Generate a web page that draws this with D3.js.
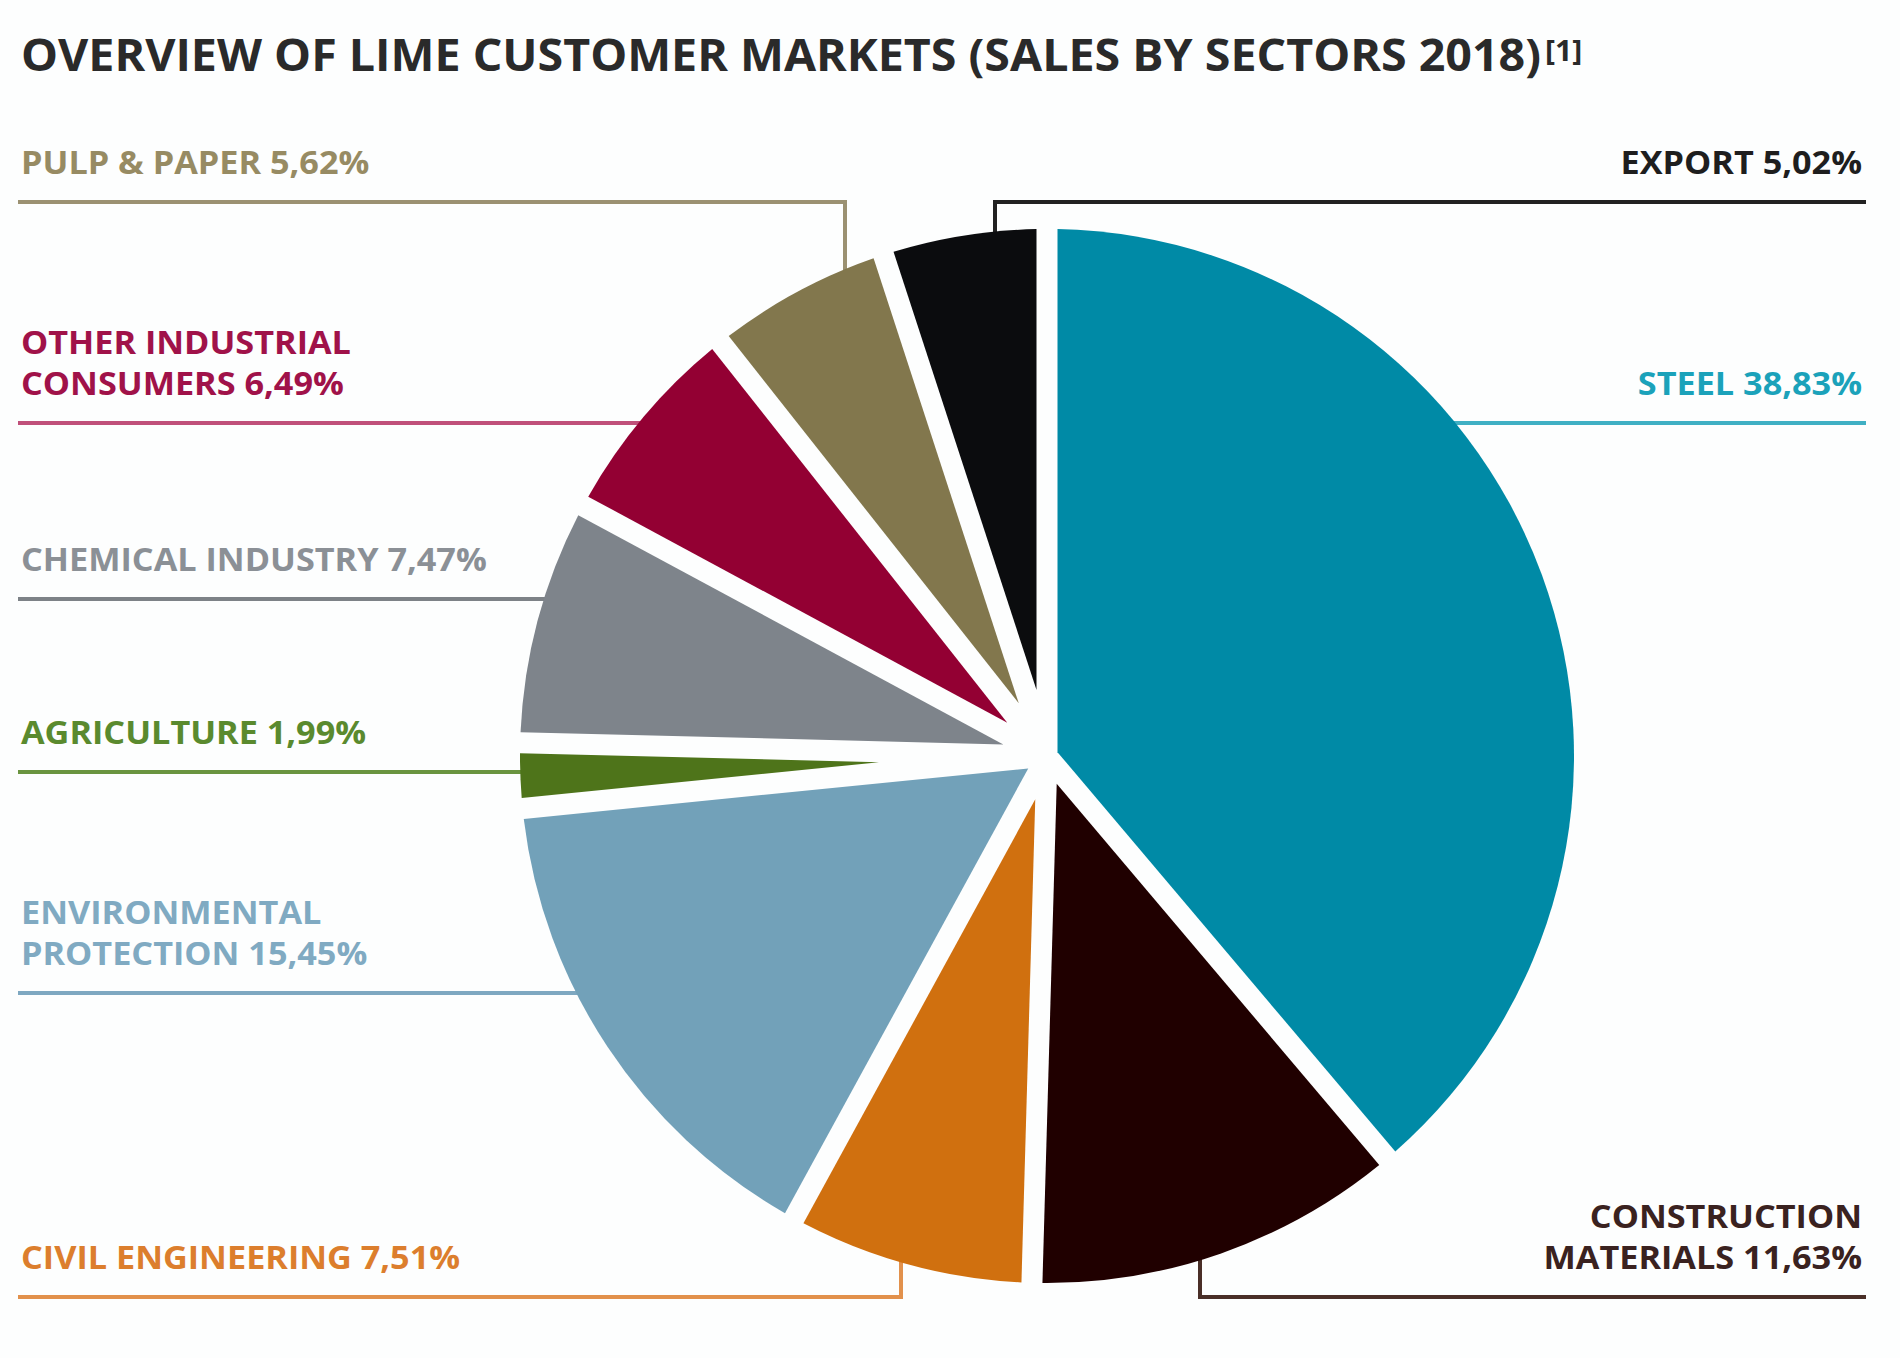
<!DOCTYPE html>
<html>
<head>
<meta charset="utf-8">
<script src="https://cdn.jsdelivr.net/npm/d3@7"></script>
<style>
  html, body { margin: 0; padding: 0; background: #fdfefe; }
  svg { display: block; }
  text { font-family: "Open Sans", "Noto Sans", sans-serif; font-weight: 700; }
</style>
</head>
<body>
<svg id="chart"></svg>
<script>
// Data, clockwise from 12 o'clock
const sectors = ["STEEL", "CONSTRUCTION MATERIALS", "CIVIL ENGINEERING", "ENVIRONMENTAL PROTECTION",
  "AGRICULTURE", "CHEMICAL INDUSTRY", "OTHER INDUSTRIAL CONSUMERS", "PULP & PAPER", "EXPORT"];
const shares = [38.83, 11.63, 7.51, 15.45, 1.99, 7.47, 6.49, 5.62, 5.02];
const title = "OVERVIEW OF LIME CUSTOMER MARKETS (SALES BY SECTORS 2018)";
const footnote = "[1]";

// Styles
const sliceColors = ["#008aa6", "#200000", "#d0700f", "#72a1b9", "#4e741a", "#7e848b", "#930033", "#82774d", "#0b0c0e"];
const textColors  = ["#1ba2ba", "#3a2220", "#dc7e2d", "#80aac2", "#5a8a2e", "#8b9096", "#a01249", "#978b63", "#1e1e1e"];
const lineColors  = ["#40b0c4", "#4a2f28", "#e2914c", "#7ea8c1", "#6a9440", "#7d8287", "#c0507a", "#9b9172", "#222222"];

// Layout (px): side, leader line y, optional vertical x, word index for a line break
const layout = [
  { side: "right", y: 423 },
  { side: "right", y: 1297, vx: 1200, wrap: 1 },
  { side: "left",  y: 1297, vx: 901 },
  { side: "left",  y: 993, wrap: 1 },
  { side: "left",  y: 772 },
  { side: "left",  y: 599 },
  { side: "left",  y: 423, wrap: 2 },
  { side: "left",  y: 202, vx: 845 },
  { side: "right", y: 202, vx: 995 }
];

const width = 1900, height = 1358;
const cx = 1047, cy = 756, R = 527, gap = 21;
const leftX = 18, rightX = 1866;
const fontSize = 32, lineStep = 41, textOffset = 28;
const labelStretch = 1.07, titleStretch = 1.035;

const svg = d3.select("#chart").attr("width", width).attr("height", height);

const color = d3.scaleOrdinal().domain(sectors).range(sliceColors);
const tColor = d3.scaleOrdinal().domain(sectors).range(textColors);
const lColor = d3.scaleOrdinal().domain(sectors).range(lineColors);
const fmt = v => d3.format(".2f")(v).replace(".", ",") + "%";

const pie = d3.pie().value(d => d.share).sort(null);
const arcs = pie(sectors.map((s, i) => ({ name: s, share: shares[i], layout: layout[i] })));

// inner radius = where the two parallel gap edges meet, so every gap keeps its width
const arc = d3.arc()
    .outerRadius(R)
    .innerRadius(d => (gap / 2) / Math.sin((d.endAngle - d.startAngle) / 2))
    .padRadius(R)
    .padAngle(2 * Math.asin(gap / (2 * R)));

// widen the glyphs a little, the original face is broader than Open Sans
function stretch(sel, k) {
  sel.each(function() {
    const len = this.getComputedTextLength();
    d3.select(this).attr("textLength", len * k).attr("lengthAdjust", "spacingAndGlyphs");
  });
}

// Title
const titleText = svg.append("text")
    .attr("x", 21).attr("y", 71)
    .attr("font-size", 45)
    .attr("fill", "#2a2a2a")
    .text(title)
    .call(stretch, titleStretch);

const titleBox = titleText.node().getBBox();
svg.append("text")
    .attr("x", titleBox.x + titleBox.width + 4)
    .attr("y", 61)
    .attr("font-size", 28)
    .attr("fill", "#2a2a2a")
    .text(footnote)
    .call(stretch, 1.08);

// Leader lines (drawn under the slices)
const pointOnCircle = (L) => {
  if (L.vx !== undefined) {
    const dx = L.vx - cx;
    const dy = Math.sqrt(R * R - dx * dx) - 8;
    return [L.vx, L.y < cy ? cy - dy : cy + dy];
  }
  const dy = L.y - cy;
  const dx = Math.sqrt(R * R - dy * dy) - 8;
  return [L.side === "left" ? cx - dx : cx + dx, L.y];
};

svg.append("g").selectAll("path")
  .data(arcs)
  .join("path")
    .attr("fill", "none")
    .attr("stroke", d => lColor(d.data.name))
    .attr("stroke-width", 4)
    .attr("d", d => {
      const L = d.data.layout;
      const x0 = L.side === "left" ? leftX : rightX;
      const p = pointOnCircle(L);
      const pts = L.vx !== undefined ? [[x0, L.y], [L.vx, L.y], p] : [[x0, L.y], p];
      return d3.line()(pts);
    });

// Slices
svg.append("g")
    .attr("transform", `translate(${cx},${cy})`)
  .selectAll("path")
  .data(arcs)
  .join("path")
    .attr("fill", d => color(d.data.name))
    .attr("d", arc);

// Labels, one text element per row
const rows = arcs.flatMap(d => {
  const L = d.data.layout;
  const words = (d.data.name + " " + fmt(d.data.share)).split(" ");
  const lines = L.wrap ? [words.slice(0, L.wrap).join(" "), words.slice(L.wrap).join(" ")] : [words.join(" ")];
  return lines.map((t, i) => ({ t, d, y: L.y - textOffset - (lines.length - 1 - i) * lineStep }));
});

svg.append("g").selectAll("text")
  .data(rows)
  .join("text")
    .attr("font-size", fontSize)
    .attr("fill", r => tColor(r.d.data.name))
    .attr("text-anchor", r => r.d.data.layout.side === "left" ? "start" : "end")
    .attr("x", r => r.d.data.layout.side === "left" ? leftX + 3 : rightX - 4)
    .attr("y", r => r.y)
    .text(r => r.t)
    .call(stretch, labelStretch);
</script>
</body>
</html>
